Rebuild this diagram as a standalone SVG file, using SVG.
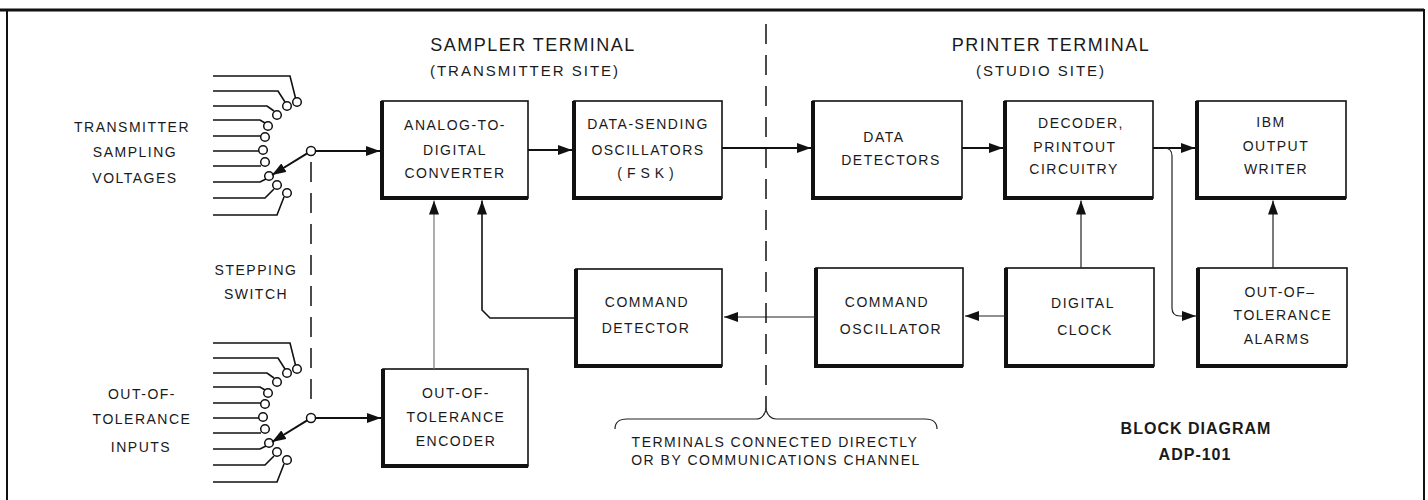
<svg xmlns="http://www.w3.org/2000/svg" width="1428" height="500" viewBox="0 0 1428 500">
<style>
  text { font-family: "Liberation Sans", Arial, sans-serif; fill: #1a1a1a; text-anchor: middle; }
  .bt { font-size: 14px; letter-spacing: 1.5px; }
  .title { font-size: 18px; letter-spacing: 1.5px; }
  .sub { font-size: 15px; letter-spacing: 2px; }
  .bold { font-size: 16px; font-weight: bold; letter-spacing: 1px; }
  .box { fill: #fff; stroke: #111; stroke-width: 1.6; }
  .shadow { fill: none; stroke: #111; stroke-width: 4; }
  .wire { fill: none; stroke: #111; stroke-width: 1.6; }
  .conn { fill: none; stroke: #111; stroke-width: 2; }
  .thin { fill: none; stroke: #222; stroke-width: 1.2; }
  .dash { fill: none; stroke: #111; stroke-width: 1.5; stroke-dasharray: 20 11; }
  .contact { fill: #fff; stroke: #111; stroke-width: 1.5; }
</style>
<defs>
  <marker id="ah" viewBox="0 0 14 10" refX="14" refY="5" markerWidth="14" markerHeight="10" markerUnits="userSpaceOnUse" orient="auto">
    <path d="M0,0 L14,5 L0,10 Z" fill="#111"/>
  </marker>
  <g id="contacts">
    <path class="wire" d="M-98,-75 H-21 L-15.5,-53 M-98,-60 H-33 L-26,-49 M-98,-45 H-44 L-37,-40 M-98,-31 H-51 L-46,-28 M-98,-15 H-50 M-98,0 H-52 M-98,15 H-50 M-98,31 H-51 L-45,28 M-98,47 H-46 L-37,38 M-98,64 H-34 L-27,46"/>
    <circle class="contact" cx="-14" cy="-49" r="4.3"/>
    <circle class="contact" cx="-24" cy="-45" r="4.3"/>
    <circle class="contact" cx="-34" cy="-36" r="4.3"/>
    <circle class="contact" cx="-43" cy="-25" r="4.3"/>
    <circle class="contact" cx="-46" cy="-14" r="4.3"/>
    <circle class="contact" cx="-48" cy="-1" r="4.3"/>
    <circle class="contact" cx="-46" cy="11" r="4.3"/>
    <circle class="contact" cx="-42" cy="25" r="4.3"/>
    <circle class="contact" cx="-34" cy="34" r="4.3"/>
    <circle class="contact" cx="-24" cy="42" r="4.3"/>
    <line class="conn" x1="-3.8" y1="2.3" x2="-39" y2="24" marker-end="url(#ah)"/>
    <circle class="contact" cx="0" cy="0" r="4.5"/>
  </g>
</defs>
<rect x="0" y="0" width="1428" height="500" fill="#fff"/>
<path d="M7,500 V10 H1424 V500" fill="none" stroke="#111" stroke-width="2"/>
<line x1="0" y1="10" x2="1424" y2="10" stroke="#111" stroke-width="3"/>

<g id="titles">
  <text class="title" x="533" y="51">SAMPLER TERMINAL</text>
  <text class="sub" x="525" y="76">(TRANSMITTER SITE)</text>
  <text class="title" x="1051" y="51">PRINTER TERMINAL</text>
  <text class="sub" x="1041" y="76">(STUDIO SITE)</text>
</g>

<g id="labels">
  <text class="bt" x="132" y="132">TRANSMITTER</text>
  <text class="bt" x="135" y="157">SAMPLING</text>
  <text class="bt" x="135" y="183">VOLTAGES</text>
  <text class="bt" x="256" y="275">STEPPING</text>
  <text class="bt" x="256" y="299">SWITCH</text>
  <text class="bt" x="142" y="399">OUT-OF-</text>
  <text class="bt" x="142" y="424">TOLERANCE</text>
  <text class="bt" x="141" y="452">INPUTS</text>
  <text class="bt" x="775" y="447">TERMINALS CONNECTED DIRECTLY</text>
  <text class="bt" x="776" y="465">OR BY COMMUNICATIONS CHANNEL</text>
  <text class="bold" x="1196" y="434">BLOCK DIAGRAM</text>
  <text class="bold" x="1195" y="460">ADP-101</text>
</g>

<g id="switch-top" transform="translate(311,151)"><use href="#contacts"/></g>
<g id="switch-bottom" transform="translate(311,418)"><use href="#contacts"/></g>

<g id="adc">
  <rect class="box" x="382" y="101" width="146" height="97"/>
  <path class="shadow" d="M382,101 V198 H528"/>
  <text class="bt" x="455" y="130">ANALOG-TO-</text>
  <text class="bt" x="455" y="155">DIGITAL</text>
  <text class="bt" x="455" y="178">CONVERTER</text>
</g>
<g id="dso">
  <rect class="box" x="574" y="101" width="148" height="97"/>
  <path class="shadow" d="M574,101 V198 H722"/>
  <text class="bt" x="648" y="129">DATA-SENDING</text>
  <text class="bt" x="648" y="155">OSCILLATORS</text>
  <text class="bt" x="648" y="178" style="letter-spacing:5px">(FSK)</text>
</g>
<g id="detectors">
  <rect class="box" x="813" y="101" width="149" height="97"/>
  <path class="shadow" d="M813,101 V198 H962"/>
  <text class="bt" x="884" y="142">DATA</text>
  <text class="bt" x="891" y="165">DETECTORS</text>
</g>
<g id="decoder">
  <rect class="box" x="1005" y="101" width="148" height="97"/>
  <path class="shadow" d="M1005,101 V198 H1153"/>
  <text class="bt" x="1081" y="128">DECODER,</text>
  <text class="bt" x="1075" y="152">PRINTOUT</text>
  <text class="bt" x="1074" y="174">CIRCUITRY</text>
</g>
<g id="ibm">
  <rect class="box" x="1197" y="101" width="149" height="97"/>
  <path class="shadow" d="M1197,101 V198 H1346"/>
  <text class="bt" x="1271" y="127">IBM</text>
  <text class="bt" x="1276" y="151">OUTPUT</text>
  <text class="bt" x="1276" y="174">WRITER</text>
</g>
<g id="cmd-detector">
  <rect class="box" x="576" y="269" width="146" height="97"/>
  <path class="shadow" d="M576,269 V366 H722"/>
  <text class="bt" x="647" y="307">COMMAND</text>
  <text class="bt" x="646" y="333">DETECTOR</text>
</g>
<g id="cmd-oscillator">
  <rect class="box" x="816" y="268" width="147" height="98"/>
  <path class="shadow" d="M816,268 V366 H963"/>
  <text class="bt" x="887" y="307">COMMAND</text>
  <text class="bt" x="891" y="334">OSCILLATOR</text>
</g>
<g id="clock">
  <rect class="box" x="1006" y="268" width="148" height="98"/>
  <path class="shadow" d="M1006,268 V366 H1154"/>
  <text class="bt" x="1083" y="308">DIGITAL</text>
  <text class="bt" x="1085" y="335">CLOCK</text>
</g>
<g id="alarms">
  <rect class="box" x="1198" y="268" width="149" height="98"/>
  <path class="shadow" d="M1198,268 V366 H1347"/>
  <text class="bt" x="1280" y="297">OUT-OF–</text>
  <text class="bt" x="1283" y="320">TOLERANCE</text>
  <text class="bt" x="1277" y="344">ALARMS</text>
</g>
<g id="encoder">
  <rect class="box" x="383" y="369" width="145" height="97"/>
  <path class="shadow" d="M383,369 V466 H528"/>
  <text class="bt" x="456" y="398">OUT-OF-</text>
  <text class="bt" x="456" y="422">TOLERANCE</text>
  <text class="bt" x="456" y="446">ENCODER</text>
</g>

<g id="connectors">
  <line class="conn" x1="315.5" y1="151" x2="380" y2="151" marker-end="url(#ah)"/>
  <line class="conn" x1="315.5" y1="418" x2="381" y2="418" marker-end="url(#ah)"/>
  <line class="conn" x1="528" y1="150" x2="572" y2="150" marker-end="url(#ah)"/>
  <line class="conn" x1="722" y1="148" x2="811" y2="148" marker-end="url(#ah)"/>
  <line class="conn" x1="962" y1="148" x2="1003" y2="148" marker-end="url(#ah)"/>
  <line class="conn" x1="1153" y1="148" x2="1195" y2="148" marker-end="url(#ah)"/>
  <path class="thin" d="M1164,148 Q1172,148 1172,156 V308 Q1172,316 1180,316 H1196" marker-end="url(#ah)"/>
  <line class="thin" x1="1081" y1="268" x2="1081" y2="200.5" marker-end="url(#ah)"/>
  <line class="thin" x1="1273" y1="268" x2="1273" y2="200.5" marker-end="url(#ah)"/>
  <line class="thin" x1="1006" y1="316" x2="965" y2="316" marker-end="url(#ah)"/>
  <line class="thin" x1="816" y1="317" x2="724" y2="317" marker-end="url(#ah)"/>
  <path class="wire" d="M576,318 H490 L482,310 V200.5" marker-end="url(#ah)"/>
  <line x1="434" y1="369" x2="434" y2="200.5" stroke="#777" stroke-width="1.2" marker-end="url(#ah)"/>
  <line class="dash" x1="311" y1="162" x2="311" y2="404"/>
  <line class="dash" x1="766" y1="24" x2="766" y2="410"/>
  <path class="thin" d="M615,429 Q615,419 627,419 H756 Q763,419 766,410 Q769,419 776,419 H925 Q937,419 937,429"/>
</g>
</svg>
